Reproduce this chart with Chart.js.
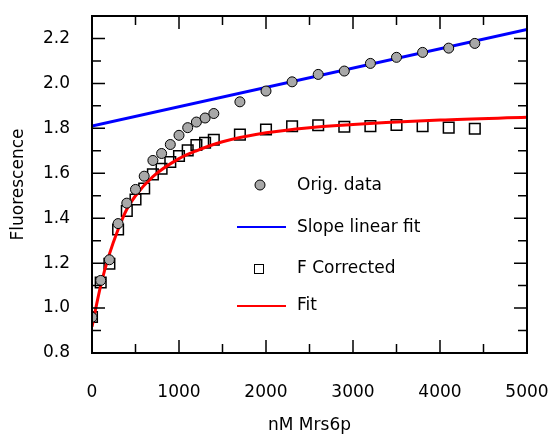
<!DOCTYPE html>
<html>
<head>
<meta charset="utf-8">
<script src="https://cdn.jsdelivr.net/npm/chart.js@4.4.1/dist/chart.umd.min.js"></script>
<style>
  html, body { margin: 0; padding: 0; background: #fff; }
  #wrap { width: 552px; height: 434px; }
</style>
</head>
<body>
<div id="wrap"><canvas id="chart" width="552" height="434"></canvas></div>
<script>
// concentrations (nM Mrs6p)
const concX = [0, 100, 200, 300, 400, 500, 600, 700, 800, 900, 1000, 1100, 1200, 1300, 1400,
               1700, 2000, 2300, 2600, 2900, 3200, 3500, 3800, 4100, 4400];
const origData = [0.959, 1.123, 1.215, 1.376, 1.467, 1.528, 1.587, 1.657, 1.688, 1.728, 1.769, 1.803,
                  1.828, 1.846, 1.866, 1.918, 1.966, 2.007, 2.040, 2.055, 2.089, 2.116, 2.138, 2.157, 2.178];
const fCorrected = [0.960, 1.114, 1.197, 1.350, 1.432, 1.483, 1.532, 1.595, 1.620, 1.650, 1.677, 1.702,
                    1.726, 1.736, 1.749, 1.772, 1.795, 1.809, 1.814, 1.807, 1.810, 1.815, 1.809, 1.803, 1.798];
// fitted curves
const fitX = [0, 100, 200, 300, 400, 500, 700, 1000, 1200, 1500, 2000, 2500, 3000, 4000, 5000];
const fitY = [0.917, 1.10, 1.24, 1.35, 1.44, 1.50, 1.585, 1.665, 1.70, 1.74, 1.78, 1.803, 1.817, 1.837, 1.849];
const slopeX = [0, 5000];
const slopeY = [1.81, 2.24];
// axis ticks
const xTicks = [0, 1000, 2000, 3000, 4000, 5000];
const yTicks = [0.8, 1.0, 1.2, 1.4, 1.6, 1.8, 2.0, 2.2];

const FONT = 'DejaVu Sans';

function pts(xs, ys) {
    return xs.map((x, i) => ({ x: x, y: ys[i] }));
}

// box frame with inward major / minor ticks
const frame = {
    id: 'frame',
    afterDraw(chart) {
        const ctx = chart.ctx;
        const a = chart.chartArea;
        const xs = chart.scales.x, ys = chart.scales.y;
        ctx.save();
        ctx.strokeStyle = '#000';
        ctx.lineWidth = 1.5;
        ctx.beginPath();
        xTicks.forEach((v, i) => {
            const px = xs.getPixelForValue(v);
            ctx.moveTo(px, a.bottom); ctx.lineTo(px, a.bottom - 13);
            ctx.moveTo(px, a.top); ctx.lineTo(px, a.top + 13);
            if (i < xTicks.length - 1) {
                const mx = xs.getPixelForValue((v + xTicks[i + 1]) / 2);
                ctx.moveTo(mx, a.bottom); ctx.lineTo(mx, a.bottom - 9);
                ctx.moveTo(mx, a.top); ctx.lineTo(mx, a.top + 9);
            }
        });
        const yAll = yTicks.concat([2.4]);
        yTicks.forEach((v, i) => {
            const py = ys.getPixelForValue(v);
            ctx.moveTo(a.left, py); ctx.lineTo(a.left + 13, py);
            ctx.moveTo(a.right, py); ctx.lineTo(a.right - 13, py);
            const my = ys.getPixelForValue((v + yAll[i + 1]) / 2);
            ctx.moveTo(a.left, my); ctx.lineTo(a.left + 9, my);
            ctx.moveTo(a.right, my); ctx.lineTo(a.right - 9, my);
        });
        ctx.stroke();
        ctx.lineWidth = 2;
        ctx.strokeRect(a.left, a.top, a.right - a.left, a.bottom - a.top);
        ctx.restore();
    }
};

// legend placed inside the plot
const innerLegend = {
    id: 'innerLegend',
    afterDraw(chart) {
        const ctx = chart.ctx;
        ctx.save();
        ctx.font = '17px "' + FONT + '"';
        ctx.fillStyle = '#000';
        ctx.textBaseline = 'middle';
        const tx = 297;
        // Orig. data
        ctx.beginPath();
        ctx.arc(260, 185, 5, 0, Math.PI * 2);
        ctx.fillStyle = '#a8a8a8';
        ctx.fill();
        ctx.lineWidth = 1;
        ctx.strokeStyle = '#000';
        ctx.stroke();
        ctx.fillStyle = '#000';
        ctx.fillText('Orig. data', tx, 186);
        // Slope linear fit
        ctx.strokeStyle = '#0000ff';
        ctx.lineWidth = 2;
        ctx.beginPath();
        ctx.moveTo(237, 227); ctx.lineTo(286, 227);
        ctx.stroke();
        ctx.fillText('Slope linear fit', tx, 228);
        // F Corrected
        ctx.strokeStyle = '#000';
        ctx.lineWidth = 1;
        ctx.strokeRect(254.5, 264.5, 9, 9);
        ctx.fillText('F Corrected', tx, 269);
        // Fit
        ctx.strokeStyle = '#ff0000';
        ctx.lineWidth = 2;
        ctx.beginPath();
        ctx.moveTo(237, 306); ctx.lineTo(286, 306);
        ctx.stroke();
        ctx.fillText('Fit', tx, 306);
        ctx.restore();
    }
};

const ctx = document.getElementById('chart').getContext('2d');
new Chart(ctx, {
    type: 'scatter',
    data: {
        datasets: [{
            label: 'Orig. data',
            data: pts(concX, origData),
            pointStyle: 'circle',
            pointRadius: 5,
            backgroundColor: '#a8a8a8',
            borderColor: '#000',
            borderWidth: 1
        }, {
            label: 'Slope linear fit',
            data: pts(slopeX, slopeY),
            showLine: true,
            pointRadius: 0,
            borderColor: '#0000ff',
            borderWidth: 3
        }, {
            label: 'Fit',
            data: pts(fitX, fitY),
            showLine: true,
            pointRadius: 0,
            cubicInterpolationMode: 'monotone',
            borderColor: '#ff0000',
            borderWidth: 3
        }, {
            label: 'F Corrected',
            data: pts(concX, fCorrected),
            pointStyle: 'rect',
            pointRadius: 7.5,
            backgroundColor: 'rgba(255,255,255,0)',
            borderColor: '#000',
            borderWidth: 1.5
        }]
    },
    options: {
        responsive: false,
        animation: false,
        layout: { padding: { top: 16, right: 25, left: 0, bottom: 0 } },
        plugins: {
            legend: { display: false },
            tooltip: { enabled: false }
        },
        scales: {
            x: {
                type: 'linear',
                min: 0,
                max: 5000,
                afterBuildTicks: s => { s.ticks = xTicks.map(v => ({ value: v })); },
                afterFit: s => { s.height = 81; s.paddingLeft = 0; s.paddingRight = 0; },
                grid: { display: false, drawTicks: false },
                border: { display: false },
                ticks: {
                    padding: 29,
                    color: '#000',
                    maxRotation: 0,
                    font: { family: FONT, size: 17 },
                    callback: v => String(v)
                },
                title: {
                    display: true,
                    text: 'nM Mrs6p',
                    color: '#000',
                    padding: 0,
                    font: { family: FONT, size: 17, lineHeight: 1 }
                }
            },
            y: {
                type: 'linear',
                min: 0.8,
                max: 2.3,
                afterBuildTicks: s => { s.ticks = yTicks.map(v => ({ value: v })); },
                afterFit: s => { s.width = 92; s.paddingTop = 0; s.paddingBottom = 0; },
                grid: { display: false, drawTicks: false },
                border: { display: false },
                ticks: {
                    padding: 22,
                    color: '#000',
                    font: { family: FONT, size: 17 },
                    callback: v => v.toFixed(1)
                },
                title: {
                    display: true,
                    text: 'Fluorescence',
                    color: '#000',
                    padding: { top: 8 },
                    font: { family: FONT, size: 17, lineHeight: 1.2 }
                }
            }
        }
    },
    plugins: [frame, innerLegend]
});
</script>
</body>
</html>
